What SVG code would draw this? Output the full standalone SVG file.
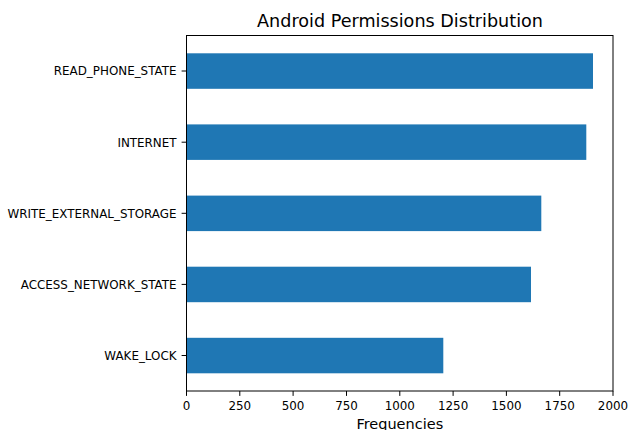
<svg xmlns="http://www.w3.org/2000/svg" width="628" height="430" viewBox="0 0 628 430">
<style>
text{font-family:"DejaVu Sans",sans-serif;fill:#000}
.yt{font-size:11.9px;text-anchor:end}
.xt{font-size:11.9px;text-anchor:middle}
.bar{fill:#1f77b4}
.tick{stroke:#000;stroke-width:1}
</style>
<rect width="628" height="430" fill="#fff"/>
<text x="400" y="27" font-size="17.6" text-anchor="middle">Android Permissions Distribution</text>
<g id="bars">
<rect id="bar-read" class="bar" x="186.5" y="53.3" width="406.5" height="35.5"/>
<rect id="bar-internet" class="bar" x="186.5" y="124.4" width="399.8" height="35.5"/>
<rect id="bar-write" class="bar" x="186.5" y="195.6" width="354.8" height="35.5"/>
<rect id="bar-access" class="bar" x="186.5" y="266.7" width="344.5" height="35.5"/>
<rect id="bar-wake" class="bar" x="186.5" y="337.8" width="256.8" height="35.5"/>
</g>
<g id="yticks">
<line class="tick" x1="181.6" y1="71" x2="186.5" y2="71"/>
<line class="tick" x1="181.6" y1="142.2" x2="186.5" y2="142.2"/>
<line class="tick" x1="181.6" y1="213.3" x2="186.5" y2="213.3"/>
<line class="tick" x1="181.6" y1="284.4" x2="186.5" y2="284.4"/>
<line class="tick" x1="181.6" y1="355.5" x2="186.5" y2="355.5"/>
<text class="yt" x="176.5" y="75.3">READ_PHONE_STATE</text>
<text class="yt" x="176.5" y="146.5">INTERNET</text>
<text class="yt" x="176.5" y="217.6">WRITE_EXTERNAL_STORAGE</text>
<text class="yt" x="176.5" y="288.7">ACCESS_NETWORK_STATE</text>
<text class="yt" x="176.5" y="359.8">WAKE_LOCK</text>
</g>
<g id="xticks">
<line class="tick" x1="186.5" y1="391" x2="186.5" y2="395.9"/>
<line class="tick" x1="239.8" y1="391" x2="239.8" y2="395.9"/>
<line class="tick" x1="293.1" y1="391" x2="293.1" y2="395.9"/>
<line class="tick" x1="346.5" y1="391" x2="346.5" y2="395.9"/>
<line class="tick" x1="399.8" y1="391" x2="399.8" y2="395.9"/>
<line class="tick" x1="453.1" y1="391" x2="453.1" y2="395.9"/>
<line class="tick" x1="506.4" y1="391" x2="506.4" y2="395.9"/>
<line class="tick" x1="559.7" y1="391" x2="559.7" y2="395.9"/>
<line class="tick" x1="613" y1="391" x2="613" y2="395.9"/>
<text class="xt" x="186.5" y="410">0</text>
<text class="xt" x="239.8" y="410">250</text>
<text class="xt" x="293.1" y="410">500</text>
<text class="xt" x="346.5" y="410">750</text>
<text class="xt" x="399.8" y="410">1000</text>
<text class="xt" x="453.1" y="410">1250</text>
<text class="xt" x="506.4" y="410">1500</text>
<text class="xt" x="559.7" y="410">1750</text>
<text class="xt" x="613" y="410">2000</text>
</g>
<rect id="axes" x="186.5" y="35.5" width="426.5" height="355.5" fill="none" stroke="#000" stroke-width="1"/>
<text x="399.8" y="428.6" font-size="14.5" text-anchor="middle">Frequencies</text>
</svg>
